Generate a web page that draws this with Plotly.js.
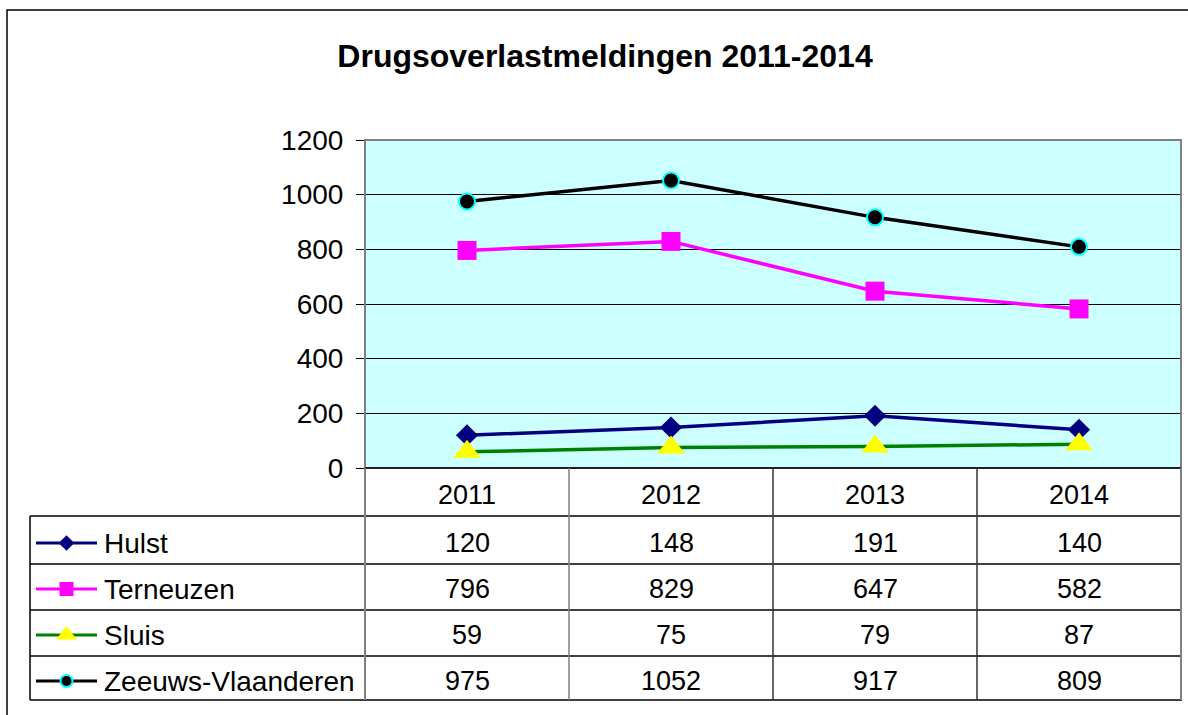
<!DOCTYPE html>
<html><head><meta charset="utf-8">
<script src="https://cdn.plot.ly/plotly-3.0.1.min.js"></script>
<style>html,body{margin:0;padding:0;background:#fff}</style>
</head><body><div id="chart" style="width:1188px;height:715px"></div>
<script>
// ---- data ----
const years = ['2011', '2012', '2013', '2014'];
const seriesNames = ['Hulst', 'Terneuzen', 'Sluis', 'Zeeuws-Vlaanderen'];
const hulst = [120, 148, 191, 140];
const terneuzen = [796, 829, 647, 582];
const sluis = [59, 75, 79, 87];
const zeeuwsVlaanderen = [975, 1052, 917, 809];
const yTickValues = [0, 200, 400, 600, 800, 1000, 1200];
const chartTitle = 'Drugsoverlastmeldingen 2011-2014';

// ---- layout helpers (pixel -> paper) ----
const W = 1188, H = 715;
const px = p => p / W;
const py = p => 1 - p / H;
const FONT = 'Liberation Sans, Arial, sans-serif';

const values = [hulst, terneuzen, sluis, zeeuwsVlaanderen];
const styles = [
  {line: '#000080', symbol: 'diamond', fill: '#000080', edge: '#000080', size: 17, keySize: 12, edgeW: 0},
  {line: '#FF00FF', symbol: 'square', fill: '#FF00FF', edge: '#FF00FF', size: 19, keySize: 14, edgeW: 0},
  {line: '#008000', symbol: 'triangle-up', fill: '#FFFF00', edge: '#FFFF00', size: 24, keySize: 18, edgeW: 0},
  {line: '#000000', symbol: 'circle', fill: '#000000', edge: '#00FFFF', size: 16, keySize: 12, edgeW: 2}
];

const traces = [];
values.forEach((vals, i) => {
  const s = styles[i];
  traces.push({
    type: 'scatter', mode: 'lines+markers', name: seriesNames[i],
    x: years, y: vals, xaxis: 'x', yaxis: 'y', cliponaxis: false,
    line: {color: s.line, width: 3.5},
    marker: {symbol: s.symbol, size: s.size, color: s.fill, line: {color: s.edge, width: s.edgeW}},
    hoverinfo: 'x+y+name'
  });
});
// legend keys inside the data table
values.forEach((vals, i) => {
  const s = styles[i];
  traces.push({
    type: 'scatter', mode: 'lines', x: [0, 2], y: [i, i], xaxis: 'x2', yaxis: 'y2',
    line: {color: s.line, width: 3}, hoverinfo: 'skip', cliponaxis: false
  });
  traces.push({
    type: 'scatter', mode: 'markers', x: [1], y: [i], xaxis: 'x2', yaxis: 'y2', cliponaxis: false,
    marker: {symbol: s.symbol, size: s.keySize, color: s.fill, line: {color: s.edge, width: s.edgeW}},
    hoverinfo: 'skip'
  });
});

const annotations = [];
years.forEach((y, j) => {
  annotations.push({xref: 'x', yref: 'paper', x: j, y: py(495), text: y, showarrow: false,
    xanchor: 'center', yanchor: 'middle', font: {family: FONT, size: 27, color: '#000'}});
});
seriesNames.forEach((n, i) => {
  annotations.push({xref: 'paper', yref: 'y2', x: px(102), y: i, text: n, showarrow: false,
    xanchor: 'left', yanchor: 'middle', font: {family: FONT, size: 28, color: '#000'}});
  values[i].forEach((v, j) => {
    annotations.push({xref: 'x', yref: 'y2', x: j, y: i, text: String(v), showarrow: false,
      xanchor: 'center', yanchor: 'middle', font: {family: FONT, size: 27, color: '#000'}});
  });
});

const hline = (y, x0, x1, color, w) => ({type: 'line', xref: 'paper', yref: 'paper',
  x0: px(x0), x1: px(x1), y0: py(y), y1: py(y), line: {color: color, width: w}});
const vline = (xref, x, y0, y1, color, w) => ({type: 'line', xref: xref, yref: 'paper',
  x0: x, x1: x, y0: py(y0), y1: py(y1), line: {color: color, width: w}});

const shapes = [
  // plot area background
  {type: 'rect', xref: 'x domain', yref: 'y domain', x0: 0, x1: 1, y0: 0, y1: 1,
    fillcolor: '#CCFFFF', line: {width: 0}, layer: 'below'},
  // outer chart frame
  {type: 'rect', xref: 'paper', yref: 'paper', x0: px(7), x1: px(1210), y0: py(10), y1: py(740),
    line: {color: '#000', width: 1.5}, fillcolor: 'rgba(0,0,0,0)'},
  // plot area border
  {type: 'rect', xref: 'paper', yref: 'paper', x0: px(365), x1: px(1181), y0: py(140), y1: py(468),
    line: {color: '#808080', width: 2}, fillcolor: 'rgba(0,0,0,0)'},
  hline(468, 365, 1181, '#000', 1.5),
  // table rows
  hline(516, 30, 1181, '#000', 1.5),
  hline(564, 30, 1181, '#000', 1.5),
  hline(610, 30, 1181, '#000', 1.5),
  hline(656, 30, 1181, '#000', 1.5),
  hline(700, 30, 1182, '#000', 1.5),
  vline('paper', px(30), 516, 700, '#000', 1.5),
  vline('paper', px(365), 468, 700, '#808080', 2),
  vline('x', 0.5, 468, 700, '#808080', 1.5),
  vline('x', 1.5, 468, 700, '#333', 1.5),
  vline('x', 2.5, 468, 700, '#333', 1.5),
  vline('paper', px(1181), 468, 700, '#808080', 2)
];

const layout = {
  width: W, height: H,
  margin: {l: 0, r: 0, t: 0, b: 0},
  paper_bgcolor: '#fff', plot_bgcolor: 'rgba(0,0,0,0)',
  showlegend: false,
  font: {family: FONT, color: '#000'},
  title: {text: '<b>' + chartTitle + '</b>', font: {family: FONT, size: 32, color: '#000'},
    xref: 'container', yref: 'container', x: 605 / W, xanchor: 'center', y: py(56), yanchor: 'middle'},
  xaxis: {domain: [px(365), px(1181)], type: 'category', range: [-0.5, 3.5],
    showticklabels: false, showgrid: false, zeroline: false, ticks: '', showline: false, fixedrange: true},
  yaxis: {domain: [py(468), py(140)], range: [0, 1200], tickvals: yTickValues,
    ticktext: yTickValues.map(String), ticks: 'outside', ticklen: 8, tickcolor: '#000', tickwidth: 1,
    ticklabelstandoff: 7,
    showgrid: true, gridcolor: '#000', gridwidth: 1, zeroline: false, showline: false,
    tickfont: {family: FONT, size: 28, color: '#000'}, fixedrange: true},
  xaxis2: {domain: [px(36), px(97)], range: [0, 2], visible: false, fixedrange: true},
  yaxis2: {domain: [py(704), py(520)], range: [3.5, -0.5], visible: false, fixedrange: true},
  shapes: shapes,
  annotations: annotations
};

Plotly.newPlot('chart', traces, layout, {displayModeBar: false, staticPlot: true});
</script>
</body></html>
